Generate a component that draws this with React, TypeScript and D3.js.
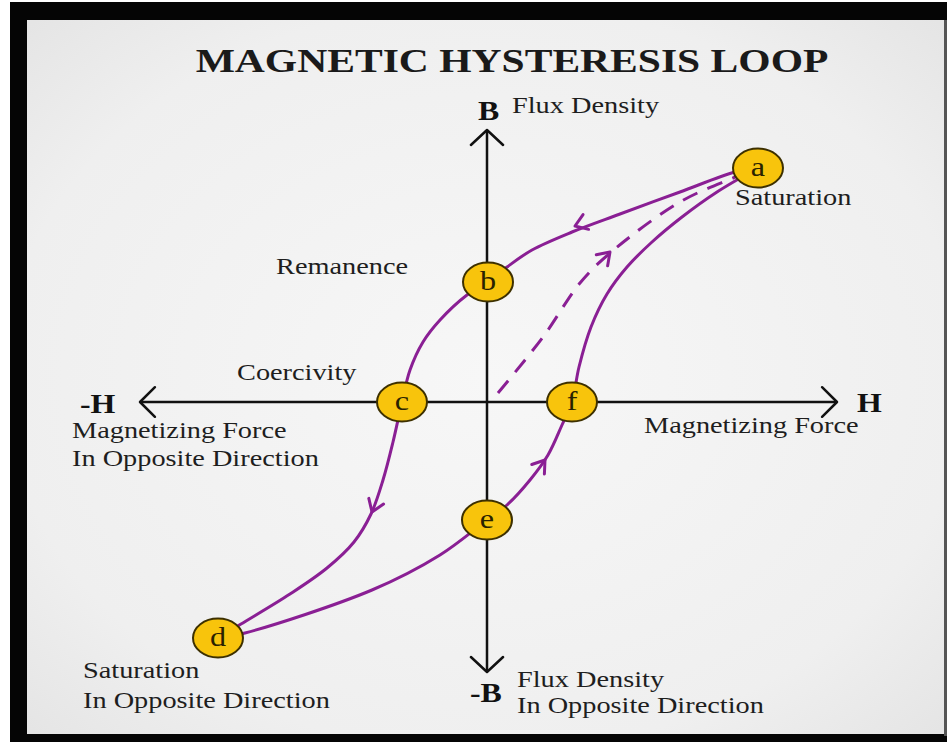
import React, { useEffect } from "react";
import * as d3 from "d3";

// ---- data (in H / B units, origin at centre of axes) ----
const H_EXTENT = [-347, 350];
const B_EXTENT = [-270, 272];

const upperBranch: [number, number][] = [
  [271, 234], [248, 230], [193, 210], [133, 188], [85, 170], [45, 152], [20, 135], [1, 120],
  [-20, 107], [-47, 82], [-64, 60], [-77, 32], [-85, 0], [-94, -40], [-104, -78],
  [-116, -112], [-133, -140], [-160, -166], [-197, -192], [-246, -222], [-269, -236],
];

const lowerBranch: [number, number][] = [
  [-269, -236], [-242, -231], [-115, -188], [-47, -153], [0, -118], [20, -103], [43, -78],
  [61, -53], [75, -23], [85, 0], [92, 35], [104, 75], [120, 108], [140, 135], [165, 160],
  [195, 185], [230, 210], [271, 234],
];

const initialCurve: [number, number][] = [
  [11, 9], [56, 65], [93, 119], [123, 149], [193, 200], [246, 224], [271, 234],
];

// arrow heads: [tip, point behind the tip along the curve]
const curveArrows: [[number, number], [number, number]][] = [
  [[88, 176], [120, 188]],
  [[123, 150], [93, 119]],
  [[-115, -110], [-108, -92]],
  [[58, -58], [40, -82]],
];

const points = [
  { id: "a", h: 271, b: 234 },
  { id: "b", h: 1, b: 120 },
  { id: "c", h: -85, b: 0 },
  { id: "d", h: -269, b: -236 },
  { id: "e", h: 0, b: -118 },
  { id: "f", h: 85, b: 0 },
];

const TITLE = "MAGNETIC HYSTERESIS LOOP";

const labels = [
  { text: "Flux Density", x: 512, y: 113, size: 24 },
  { text: "Flux Density", x: 517, y: 687, size: 24 },
  { text: "In Opposite Direction", x: 517, y: 713, size: 24 },
  { text: "Magnetizing Force", x: 72, y: 438, size: 24 },
  { text: "In Opposite Direction", x: 72, y: 466, size: 24 },
  { text: "Magnetizing Force", x: 644, y: 433, size: 24 },
  { text: "Remanence", x: 276, y: 274, size: 24 },
  { text: "Coercivity", x: 237, y: 380, size: 24 },
  { text: "Saturation", x: 735, y: 205, size: 24 },
  { text: "Saturation", x: 83, y: 678, size: 24 },
  { text: "In Opposite Direction", x: 83, y: 708, size: 24 },
];

const axisLabels = [
  { text: "B", x: 478, y: 120 },
  { text: "-B", x: 470, y: 702 },
  { text: "-H", x: 80, y: 413 },
  { text: "H", x: 857, y: 412 },
];

const SX = 1.18;
const FONT = "'Liberation Serif','Times New Roman',serif";
const PURPLE = "#8a1f94";

const xScale = d3.scaleLinear().domain([-350, 350]).range([137, 837]);
const yScale = d3.scaleLinear().domain([-270, 270]).range([672, 132]);

function Chevron({ tip, back, len, spread, color, width }: any) {
  const ang = Math.atan2(back[1] - tip[1], back[0] - tip[0]);
  const p1 = [tip[0] + len * Math.cos(ang + spread), tip[1] + len * Math.sin(ang + spread)];
  const p2 = [tip[0] + len * Math.cos(ang - spread), tip[1] + len * Math.sin(ang - spread)];
  return (
    <path
      d={`M${p1[0]},${p1[1]}L${tip[0]},${tip[1]}L${p2[0]},${p2[1]}`}
      fill="none"
      stroke={color}
      strokeWidth={width}
      strokeLinecap="round"
      strokeLinejoin="round"
    />
  );
}

export default function App() {
  useEffect(() => {
    document.body.style.margin = "0";
  }, []);

  const line = d3
    .line<[number, number]>()
    .x((d) => xScale(d[0]))
    .y((d) => yScale(d[1]))
    .curve(d3.curveCatmullRom.alpha(0.5));

  const x0 = xScale(0);
  const y0 = yScale(0);
  const xl = xScale(H_EXTENT[0]);
  const xr = xScale(H_EXTENT[1]);
  const yt = yScale(B_EXTENT[1]);
  const yb = yScale(B_EXTENT[0]);

  return (
    <svg width={950} height={742} style={{ display: "block", position: "absolute", left: 0, top: 0 }}>
      <defs>
        <radialGradient id="bg" cx="50%" cy="50%" r="70%">
          <stop offset="0%" stopColor="#f7f7f7" />
          <stop offset="75%" stopColor="#efefef" />
          <stop offset="100%" stopColor="#e5e5e5" />
        </radialGradient>
      </defs>
      <rect x={0} y={0} width={950} height={742} fill="#ffffff" />
      <rect x={10} y={2} width={937} height={740} fill="#050505" />
      <rect x={944} y={20} width={3} height={716} fill="#555" />
      <rect x={27} y={20} width={917} height={714} fill="url(#bg)" />

      <text
        transform={`translate(512,72) scale(1.26,1)`}
        textAnchor="middle"
        fontFamily={FONT}
        fontWeight="bold"
        fontSize={33}
        fill="#1a1a1a"
      >
        {TITLE}
      </text>

      {/* axes */}
      <g stroke="#111" strokeWidth={2.5} fill="none">
        <line x1={xl} y1={y0} x2={xr} y2={y0} />
        <line x1={x0} y1={yt} x2={x0} y2={yb} />
      </g>
      <Chevron tip={[x0, yt]} back={[x0, yt + 20]} len={22} spread={0.82} color="#111" width={2.5} />
      <Chevron tip={[x0, yb]} back={[x0, yb - 20]} len={22} spread={0.82} color="#111" width={2.5} />
      <Chevron tip={[xl, y0]} back={[xl + 20, y0]} len={21} spread={0.78} color="#111" width={2.5} />
      <Chevron tip={[xr, y0]} back={[xr - 20, y0]} len={21} spread={0.78} color="#111" width={2.5} />

      {/* curves */}
      <g fill="none" stroke={PURPLE} strokeWidth={3} strokeLinecap="round">
        <path d={line(upperBranch) || ""} />
        <path d={line(lowerBranch) || ""} />
        <path d={line(initialCurve) || ""} strokeDasharray="16 11" strokeLinecap="butt" />
      </g>
      {curveArrows.map((a, i) => (
        <Chevron
          key={i}
          tip={[xScale(a[0][0]), yScale(a[0][1])]}
          back={[xScale(a[1][0]), yScale(a[1][1])]}
          len={14}
          spread={0.6}
          color={PURPLE}
          width={3}
        />
      ))}

      {/* points */}
      {points.map((p) => (
        <g key={p.id}>
          <ellipse cx={xScale(p.h)} cy={yScale(p.b)} rx={25} ry={19.5} fill="#f8c40c" stroke="#3d3000" strokeWidth={2} />
          <text
            transform={`translate(${xScale(p.h)},${yScale(p.b) + 8}) scale(1.15,1)`}
            textAnchor="middle"
            fontFamily={FONT}
            fontSize={28}
            fill="#2a2200"
          >
            {p.id}
          </text>
        </g>
      ))}

      {/* labels */}
      {labels.map((l, i) => (
        <text
          key={i}
          transform={`translate(${l.x},${l.y}) scale(${SX},1)`}
          fontFamily={FONT}
          fontSize={l.size}
          fill="#1e1e1e"
        >
          {l.text}
        </text>
      ))}
      {axisLabels.map((l, i) => (
        <text
          key={i}
          transform={`translate(${l.x},${l.y}) scale(${SX},1)`}
          fontFamily={FONT}
          fontWeight="bold"
          fontSize={27}
          fill="#111"
        >
          {l.text}
        </text>
      ))}
    </svg>
  );
}
